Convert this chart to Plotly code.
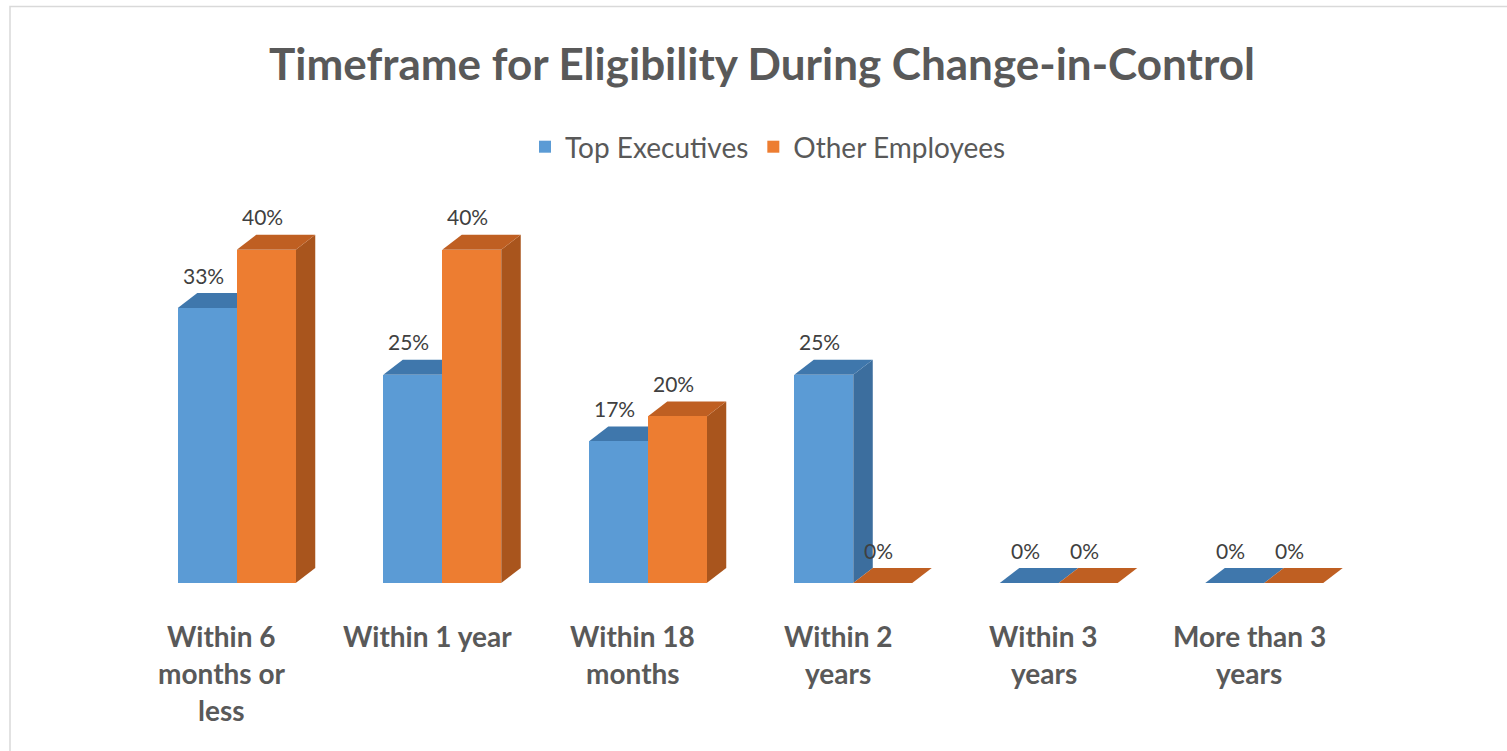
import plotly.graph_objects as go

# Chart data
categories = [
    "Within 6<br>months or<br>less",
    "Within 1 year",
    "Within 18<br>months",
    "Within 2<br>years",
    "Within 3<br>years",
    "More than 3<br>years",
]
top_executives = [33, 25, 17, 25, 0, 0]
other_employees = [40, 40, 20, 0, 0, 0]
series_names = ["Top Executives", "Other Employees"]

# Styling
FONT = "Lato"
GRAY = "#595959"
LABEL_GRAY = "#404040"
FRONT = ["#5B9BD5", "#ED7D31"]
TOP = ["#3F77AC", "#BF5F22"]
SIDE = ["#3C6E9E", "#A9551D"]

W = 1507
H = 751
BAR_W = 0.287          # width of each front face, in category units
DEPTH_X = 0.095        # oblique depth, category units
DEPTH_Y = 1.8          # oblique depth, value units
Y_MAX = 45

# plot area in pixels
px_left, px_right = 134, 1367
px_base, px_top = 583, 583 - Y_MAX * 8.33

fig = go.Figure()

xs = list(range(len(categories)))
offsets = [-BAR_W, 0.0]
shapes = []

for s, (name, vals) in enumerate(zip(series_names, [top_executives, other_employees])):
    fig.add_trace(go.Bar(
        x=xs, y=vals, name=name,
        width=[BAR_W] * len(xs), offset=offsets[s],
        marker=dict(color=FRONT[s], line=dict(width=0)),
        hoverinfo="skip",
    ))

# depth faces (top and right side), drawn beneath the front faces
for i in xs:
    for s, vals in enumerate([top_executives, other_employees]):
        v = vals[i]
        x0 = i + offsets[s]
        x1 = x0 + BAR_W
        top_path = (f"M {x0},{v} L {x1},{v} L {x1 + DEPTH_X},{v + DEPTH_Y} "
                    f"L {x0 + DEPTH_X},{v + DEPTH_Y} Z")
        side_path = (f"M {x1},0 L {x1},{v} L {x1 + DEPTH_X},{v + DEPTH_Y} "
                     f"L {x1 + DEPTH_X},{DEPTH_Y} Z")
        if v > 0:
            shapes.append(dict(type="path", path=side_path, xref="x", yref="y",
                               fillcolor=SIDE[s], line=dict(width=0), layer="below"))
        shapes.append(dict(type="path", path=top_path, xref="x", yref="y",
                           fillcolor=TOP[s], line=dict(width=0), layer="below"))

# outer frame
shapes.append(dict(type="rect", xref="paper", yref="paper",
                   x0=10 / W, x1=1.05, y0=-0.05, y1=1 - 6.5 / H,
                   line=dict(color="#D9D9D9", width=1.5), fillcolor="rgba(0,0,0,0)",
                   layer="below"))

annotations = []
# value labels
for s, vals in enumerate([top_executives, other_employees]):
    for i in xs:
        v = vals[i]
        annotations.append(dict(
            x=i + offsets[s] + BAR_W / 2, y=v, xref="x", yref="y",
            text=f"{v}%", showarrow=False, xshift=-4, yshift=33,
            yanchor="middle",
            font=dict(family=FONT, size=21, color=LABEL_GRAY),
        ))

# category labels, one line at a time
LINE0_Y = 636
LINE_STEP = 37
for i, cat in enumerate(categories):
    for k, line in enumerate(cat.split("<br>")):
        annotations.append(dict(
            x=i, y=1 - (LINE0_Y + k * LINE_STEP) / H, xref="x", yref="paper",
            text=f"<b>{line}</b>", showarrow=False, xshift=-15,
            yanchor="middle", xanchor="center",
            font=dict(family=FONT, size=28, color=GRAY),
        ))

fig.update_layout(
    width=W, height=H,
    margin=dict(l=0, r=0, t=0, b=0),
    paper_bgcolor="white", plot_bgcolor="white",
    title=dict(text="<b>Timeframe for Eligibility During Change-in-Control</b>",
               x=762 / W, xanchor="center", y=1 - 65 / H, yanchor="middle",
               font=dict(family=FONT, size=44, color=GRAY)),
    legend=dict(orientation="h", x=768 / W, xanchor="center",
                y=1 - 147 / H, yanchor="middle",
                font=dict(family=FONT, size=28, color=GRAY),
                itemwidth=30,
                bgcolor="rgba(0,0,0,0)"),
    xaxis=dict(domain=[px_left / W, px_right / W], range=[-0.5, 5.5],
               showticklabels=False, showgrid=False, zeroline=False,
               showline=False, ticks=""),
    yaxis=dict(domain=[1 - px_base / H, 1 - px_top / H], range=[0, Y_MAX],
               showticklabels=False, showgrid=False, zeroline=False,
               showline=False, ticks=""),
    shapes=shapes,
    annotations=annotations,
    showlegend=True,
    bargap=0,
)

fig.write_html("out.html")
